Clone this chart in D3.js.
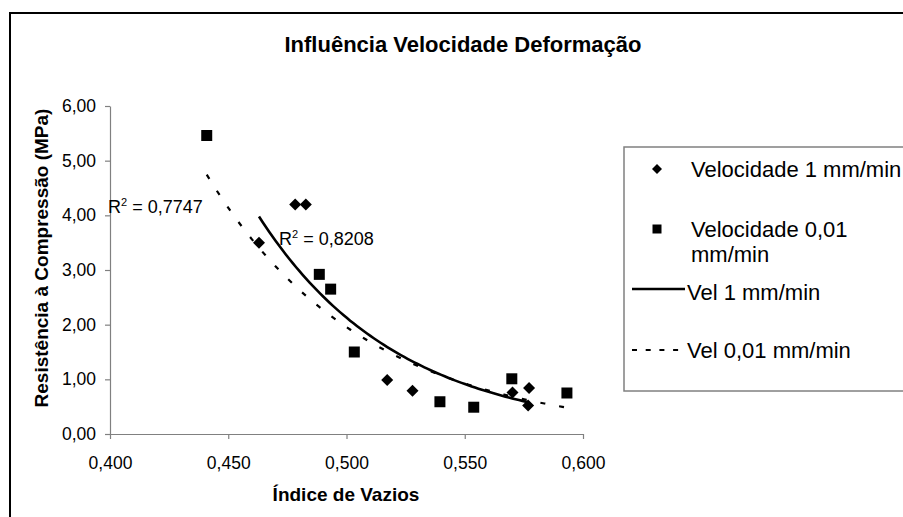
<!DOCTYPE html>
<html>
<head>
<meta charset="utf-8">
<script src="https://cdn.jsdelivr.net/npm/d3@7"></script>
<style>
  body { margin: 0; background: #fff; }
  svg { display: block; font-family: "Liberation Sans", Arial, sans-serif; }
</style>
</head>
<body>
<svg id="chart"></svg>
<script>
// data (índice de vazios vs resistência)
const vel1X = [0.463, 0.4783, 0.4828, 0.5172, 0.5279, 0.5702, 0.5772, 0.5768];
const vel1Y = [3.50, 4.20, 4.20, 0.99, 0.79, 0.76, 0.84, 0.52];
const vel001X = [0.4409, 0.4885, 0.4933, 0.5033, 0.5395, 0.5538, 0.5699, 0.5932];
const vel001Y = [5.46, 2.92, 2.65, 1.50, 0.59, 0.49, 1.01, 0.75];

const xTicks = [0.400, 0.450, 0.500, 0.550, 0.600];
const yTicks = [0, 1, 2, 3, 4, 5, 6];

const seriesNames = ["Velocidade 1 mm/min", "Velocidade 0,01 mm/min", "Vel 1 mm/min", "Vel 0,01 mm/min"];
const r2Values = ["0,8208", "0,7747"];

const W = 903, H = 517;
const plot = { left: 110, right: 583, top: 106, bottom: 434 };

const svg = d3.select("#chart")
  .attr("width", W)
  .attr("height", H);

// comma as decimal separator
const locale = d3.formatLocale({ decimal: ",", thousands: ".", grouping: [3], currency: ["", ""] });
const fmtY = locale.format(".2f");
const fmtX = locale.format(".3f");

const x = d3.scaleLinear().domain([0.4, 0.6]).range([plot.left, plot.right]);
const y = d3.scaleLinear().domain([0, 6]).range([plot.bottom, plot.top]);

// exponential trendline, like the spreadsheet does it (least squares on ln y)
function expFit(xs, ys) {
  const ly = ys.map(Math.log);
  const mx = d3.mean(xs), my = d3.mean(ly);
  let sxy = 0, sxx = 0;
  xs.forEach((v, i) => {
    sxy += (v - mx) * (ly[i] - my);
    sxx += (v - mx) * (v - mx);
  });
  const b = sxy / sxx;
  const a = Math.exp(my - b * mx);
  return { a, b };
}

function trendPoints(xs, ys) {
  const f = expFit(xs, ys);
  const x0 = d3.min(xs), x1 = d3.max(xs);
  return d3.range(0, 81).map(i => {
    const xv = x0 + (x1 - x0) * i / 80;
    return [xv, f.a * Math.exp(f.b * xv)];
  });
}

// outer chart border (runs off the page on the right and bottom)
svg.append("rect")
  .attr("x", 10).attr("y", 13)
  .attr("width", 1000).attr("height", 1000)
  .attr("fill", "none")
  .attr("stroke", "#000")
  .attr("stroke-width", 2);

// title
svg.append("text")
  .attr("x", 463).attr("y", 52)
  .attr("text-anchor", "middle")
  .style("font-size", "22px")
  .style("font-weight", "bold")
  .text("Influência Velocidade Deformação");

// axes
const yAxis = svg.append("g")
  .attr("transform", `translate(${plot.left},0)`)
  .call(d3.axisLeft(y).tickValues(yTicks).tickFormat(fmtY).tickSize(5).tickSizeOuter(0).tickPadding(9));

const xAxis = svg.append("g")
  .attr("transform", `translate(0,${plot.bottom})`)
  .call(d3.axisBottom(x).tickValues(xTicks).tickFormat(fmtX).tickSize(5).tickSizeOuter(0).tickPadding(17.5));

[xAxis, yAxis].forEach(g => {
  g.select(".domain").attr("stroke", "#808080").attr("stroke-width", 1.2);
  g.selectAll(".tick line").attr("stroke", "#808080").attr("stroke-width", 1.2);
  g.selectAll(".tick text")
    .attr("fill", "#000")
    .style("font-family", "\"Liberation Sans\", Arial, sans-serif")
    .style("font-size", "17.5px");
});

// axis titles
svg.append("text")
  .attr("x", 346).attr("y", 501)
  .attr("text-anchor", "middle")
  .style("font-size", "19px")
  .style("font-weight", "bold")
  .text("Índice de Vazios");

svg.append("text")
  .attr("transform", "rotate(-90)")
  .attr("x", -258).attr("y", 48)
  .attr("text-anchor", "middle")
  .style("font-size", "19px")
  .style("font-weight", "bold")
  .text("Resistência à Compressão (MPa)");

// trendlines
const line = d3.line().x(d => x(d[0])).y(d => y(d[1]));

svg.append("path")
  .datum(trendPoints(vel001X, vel001Y))
  .attr("d", line)
  .attr("fill", "none")
  .attr("stroke", "#000")
  .attr("stroke-width", 2.2)
  .attr("stroke-dasharray", "5,14");

svg.append("path")
  .datum(trendPoints(vel1X, vel1Y))
  .attr("d", line)
  .attr("fill", "none")
  .attr("stroke", "#000")
  .attr("stroke-width", 2.6);

// markers
const diamond = d3.symbol().type(d3.symbolSquare).size(72);
const square = d3.symbol().type(d3.symbolSquare).size(121);

svg.append("g")
  .selectAll("path")
  .data(vel1X.map((v, i) => [v, vel1Y[i]]))
  .join("path")
  .attr("d", diamond)
  .attr("transform", d => `translate(${x(d[0])},${y(d[1])}) rotate(45)`)
  .attr("fill", "#000");

svg.append("g")
  .selectAll("path")
  .data(vel001X.map((v, i) => [v, vel001Y[i]]))
  .join("path")
  .attr("d", square)
  .attr("transform", d => `translate(${x(d[0])},${y(d[1])})`)
  .attr("fill", "#000");

// R² labels
function r2Label(px, py, value) {
  const t = svg.append("text")
    .attr("x", px).attr("y", py)
    .style("font-size", "18px");
  t.append("tspan").text("R");
  t.append("tspan").attr("dy", -7).style("font-size", "11px").text("2");
  t.append("tspan").attr("dy", 7).text(" = " + value);
}
r2Label(279, 245, r2Values[0]);
r2Label(108, 213, r2Values[1]);

// legend
const legend = svg.append("g");
legend.append("rect")
  .attr("x", 624).attr("y", 147)
  .attr("width", 400).attr("height", 244)
  .attr("fill", "#fff")
  .attr("stroke", "#808080")
  .attr("stroke-width", 1.5);

legend.append("path")
  .attr("d", d3.symbol().type(d3.symbolSquare).size(50))
  .attr("transform", "translate(657,169) rotate(45)");
legend.append("text")
  .attr("x", 691).attr("y", 177)
  .style("font-size", "22px")
  .text(seriesNames[0]);

legend.append("path")
  .attr("d", d3.symbol().type(d3.symbolSquare).size(81))
  .attr("transform", "translate(657,229)");
const t2 = legend.append("text")
  .attr("x", 691).attr("y", 237)
  .style("font-size", "22px");
t2.append("tspan").text("Velocidade 0,01");
t2.append("tspan").attr("x", 691).attr("dy", 25).text("mm/min");

legend.append("line")
  .attr("x1", 632).attr("x2", 685)
  .attr("y1", 289).attr("y2", 289)
  .attr("stroke", "#000")
  .attr("stroke-width", 2.5);
legend.append("text")
  .attr("x", 687).attr("y", 300)
  .style("font-size", "22px")
  .text(seriesNames[2]);

legend.append("line")
  .attr("x1", 632).attr("x2", 686)
  .attr("y1", 350).attr("y2", 350)
  .attr("stroke", "#000")
  .attr("stroke-width", 2)
  .attr("stroke-dasharray", "5,8.7");
legend.append("text")
  .attr("x", 687).attr("y", 358)
  .style("font-size", "22px")
  .text(seriesNames[3]);
</script>
</body>
</html>
